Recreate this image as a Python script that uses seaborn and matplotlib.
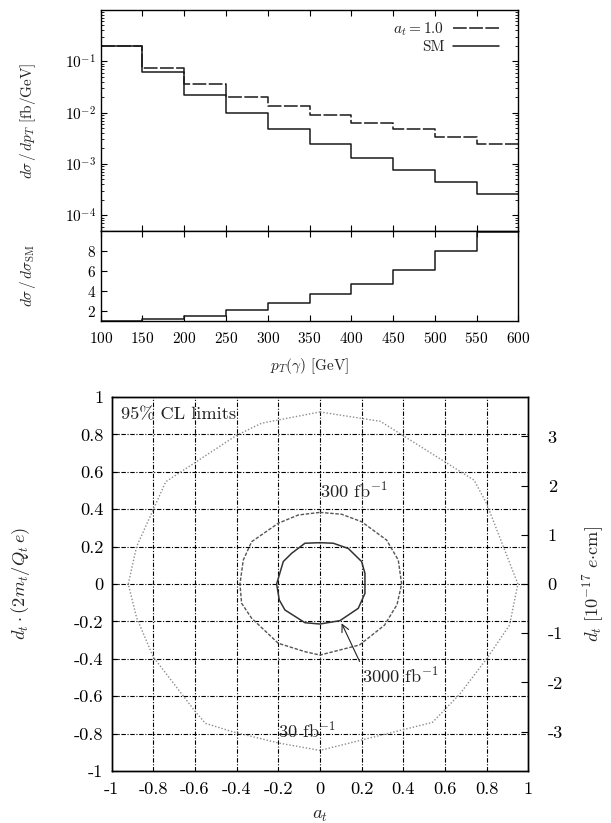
import numpy as np
import pandas as pd
import matplotlib
matplotlib.use("Agg")
import matplotlib.pyplot as plt
from matplotlib.ticker import FixedLocator, FuncFormatter, LogLocator, NullFormatter
import seaborn as sns

# ---- photon pT spectrum (bin edges in GeV) ----
pt_edges = [100, 150, 200, 250, 300, 350, 400, 450, 500, 550, 600]
xsec_at1 = [0.20, 0.075, 0.036, 0.0203, 0.0133, 0.0091, 0.0064, 0.0047, 0.0034, 0.00247]
xsec_sm = [0.20, 0.061, 0.0225, 0.0098, 0.0047, 0.0025, 0.00133, 0.00075, 0.00044, 0.00026]
ratio_at1 = [1.0, 1.2, 1.5, 2.1, 2.75, 3.65, 4.7, 6.1, 8.0, 9.9]

# ---- 95% CL contours in the (a_t, d_t) plane ----
a_30 = [0.00, 0.29, 0.74, 0.80, 0.95, 0.91, 0.80, 0.67, 0.54, 0.00, -0.20, -0.42,
        -0.55, -0.60, -0.80, -0.88, -0.92, -0.88, -0.74, -0.40, -0.28, 0.00]
d_30 = [0.92, 0.87, 0.555, 0.43, 0.00, -0.22, -0.40, -0.59, -0.74, -0.89, -0.85, -0.79,
        -0.745, -0.68, -0.39, -0.18, 0.00, 0.20, 0.547, 0.795, 0.86, 0.92]
a_300 = [0.000, 0.104, 0.200, 0.320, 0.376, 0.392, 0.370, 0.310, 0.190, 0.000, -0.072,
         -0.200, -0.328, -0.376, -0.384, -0.368, -0.328, -0.200, -0.104, 0.000]
d_300 = [0.383, 0.373, 0.333, 0.235, 0.128, 0.000, -0.110, -0.220, -0.326, -0.380, -0.362,
         -0.317, -0.183, -0.103, 0.000, 0.128, 0.226, 0.325, 0.369, 0.383]
a_3000 = [0.000, 0.064, 0.136, 0.200, 0.216, 0.216, 0.184, 0.096, 0.000, -0.072, -0.168,
          -0.195, -0.208, -0.176, -0.136, -0.072, 0.000]
d_3000 = [0.221, 0.218, 0.190, 0.120, 0.057, -0.050, -0.130, -0.196, -0.214, -0.207, -0.139,
          -0.086, 0.000, 0.120, 0.164, 0.218, 0.221]

pt_ticks = [100, 150, 200, 250, 300, 350, 400, 450, 500, 550, 600]
ratio_ticks = [2, 4, 6, 8]
grid_ticks = [-1, -0.8, -0.6, -0.4, -0.2, 0, 0.2, 0.4, 0.6, 0.8, 1]
dt_cm_ticks = [-3, -2, -1, 0, 1, 2, 3]
dt_scale = 3.80  # d_t in 10^-17 e cm per unit of d_t (2 m_t / Q_t e)

sns.set_style("white")
plt.rcParams.update({
    "font.family": "serif",
    "font.serif": ["cmr10", "DejaVu Serif"],
    "mathtext.fontset": "cm",
    "axes.unicode_minus": False,
    "axes.formatter.use_mathtext": True,
    "axes.edgecolor": "black",
    "axes.linewidth": 1.0,
    "xtick.direction": "in",
    "ytick.direction": "in",
    "xtick.color": "black",
    "ytick.color": "black",
    "text.color": "#222222",
})

fig = plt.figure(figsize=(6.11, 8.23), dpi=100)
W, H = 611.0, 823.0


def frame(l, t, r, b):
    return [l / W, 1 - b / H, (r - l) / W, (b - t) / H]


ax_top = fig.add_axes(frame(100.7, 10, 518.3, 230.7))
ax_rat = fig.add_axes(frame(100.7, 230.7, 518.3, 321))
ax_lim = fig.add_axes(frame(111.6, 397, 528.3, 771))

line_col = "#1a1a1a"
fs_top = 11
fs_bot = 13.2


def steps(vals):
    return list(vals) + [vals[-1]]


# ---- upper panel: differential cross section ----
sns.lineplot(x=pt_edges, y=steps(xsec_at1), ax=ax_top, drawstyle="steps-post",
             estimator=None, sort=False, color=line_col, lw=1.1,
             dashes=False, linestyle=(0, (9, 1.6)), label=r"$a_t = 1.0$")
sns.lineplot(x=pt_edges, y=steps(xsec_sm), ax=ax_top, drawstyle="steps-post",
             estimator=None, sort=False, color=line_col, lw=1.1, label="SM")
ax_top.set_yscale("log")
ax_top.set_xlim(100, 600)
ax_top.set_ylim(5e-5, 1)
ax_top.xaxis.set_major_locator(FixedLocator(pt_ticks))
ax_top.yaxis.set_major_locator(LogLocator(base=10, numticks=10))
ax_top.yaxis.set_minor_locator(LogLocator(base=10, subs=np.arange(2, 10), numticks=10))
ax_top.yaxis.set_minor_formatter(NullFormatter())
ax_top.set_yticks([1e-4, 1e-3, 1e-2, 1e-1])
ax_top.tick_params(axis="x", which="both", top=True, bottom=True, labelbottom=False,
                   length=4, width=0.8)
ax_top.tick_params(axis="y", which="major", left=True, right=True, length=4, width=0.8,
                   labelsize=fs_top)
ax_top.tick_params(axis="y", which="minor", left=True, right=True, length=2, width=0.6)
ax_top.set_xlabel("")
ax_top.set_ylabel(r"$d\sigma\,/\,dp_T$ [fb/GeV]", fontsize=fs_top)
ax_top.yaxis.set_label_coords(-0.15, 0.5)
leg = ax_top.legend(loc="upper right", frameon=False, markerfirst=False, fontsize=fs_top,
                    handlelength=3.0, handletextpad=0.6, labelspacing=0.15,
                    borderaxespad=0.3, bbox_to_anchor=(0.98, 1.0))
for txt in leg.get_texts():
    txt.set_ha("right")
for s in ax_top.spines.values():
    s.set_visible(True)

# ---- ratio panel ----
sns.lineplot(x=pt_edges, y=steps(ratio_at1), ax=ax_rat, drawstyle="steps-post",
             estimator=None, sort=False, color=line_col, lw=1.1)
ax_rat.set_xlim(100, 600)
ax_rat.set_ylim(1, 10)
ax_rat.xaxis.set_major_locator(FixedLocator(pt_ticks))
ax_rat.yaxis.set_major_locator(FixedLocator(ratio_ticks))
ax_rat.tick_params(axis="x", top=True, bottom=True, length=4, width=0.8, labelsize=fs_top,
                   pad=7)
ax_rat.tick_params(axis="y", left=True, right=False, length=4, width=0.8, labelsize=fs_top)
ax_rat.set_xlabel(r"$p_T(\gamma)$ [GeV]", fontsize=fs_top)
ax_rat.set_ylabel(r"$d\sigma\,/\,d\sigma_{\rm SM}$", fontsize=fs_top)
ax_rat.xaxis.set_label_coords(0.5, -0.39)
ax_rat.yaxis.set_label_coords(-0.15, 0.5)
for s in ax_rat.spines.values():
    s.set_visible(True)

# ---- lower panel: 95% CL limits ----
grid_style = dict(color="black", lw=0.8, linestyle=(0, (4, 1.5, 1, 1.5)))
for g in grid_ticks[1:-1]:
    ax_lim.axvline(g, zorder=1, **grid_style)
    ax_lim.axhline(g, zorder=1, **grid_style)

sns.lineplot(x=a_30, y=d_30, ax=ax_lim, sort=False, estimator=None, color="#8c8c8c",
             lw=1.0, linestyle=(0, (1, 1.4)), zorder=3)
sns.lineplot(x=a_300, y=d_300, ax=ax_lim, sort=False, estimator=None, color="#555555",
             lw=1.0, linestyle=(0, (2.5, 1.2)), zorder=3)
sns.lineplot(x=a_3000, y=d_3000, ax=ax_lim, sort=False, estimator=None, color="#333333",
             lw=1.1, zorder=3)

ax_lim.set_xlim(-1, 1)
ax_lim.set_ylim(-1, 1)
fmt = FuncFormatter(lambda v, p: "%g" % round(v, 2))
ax_lim.xaxis.set_major_locator(FixedLocator(grid_ticks))
ax_lim.yaxis.set_major_locator(FixedLocator(grid_ticks))
ax_lim.xaxis.set_major_formatter(fmt)
ax_lim.yaxis.set_major_formatter(fmt)
ax_lim.tick_params(axis="both", length=4, width=0.8, labelsize=fs_bot)
ax_lim.tick_params(axis="x", pad=8)
ax_lim.tick_params(axis="y", pad=6)
ax_lim.set_xlabel(r"$a_t$", fontsize=fs_bot)
ax_lim.set_ylabel(r"$d_t\cdot(2m_t/Q_t\,e)$", fontsize=fs_bot)
ax_lim.xaxis.set_label_coords(0.5, -0.1)
ax_lim.yaxis.set_label_coords(-0.19, 0.5)
for s in ax_lim.spines.values():
    s.set_visible(True)

ax_cm = ax_lim.twinx()
ax_cm.set_ylim(-dt_scale, dt_scale)
ax_cm.yaxis.set_major_locator(FixedLocator(dt_cm_ticks))
ax_cm.yaxis.set_major_formatter(FuncFormatter(lambda v, p: "%d" % v))
ax_cm.tick_params(axis="y", right=True, length=5, width=0.8, labelsize=fs_bot, pad=14)
ax_cm.set_ylabel(r"$d_t\ [10^{-17}\ e{\cdot}\mathrm{cm}]$", fontsize=fs_bot, rotation=90)
ax_cm.yaxis.set_label_coords(1.125, 0.5)
ax_cm.grid(False)

ax_lim.text(-0.955, 0.905, "95% CL limits", fontsize=fs_bot, ha="left", va="center", zorder=5)
ax_lim.text(0.0, 0.50, r"300 fb$^{-1}$", fontsize=fs_bot, ha="left", va="center", zorder=5)
ax_lim.text(-0.20, -0.78, r"30 fb$^{-1}$", fontsize=fs_bot, ha="left", va="center", zorder=5)
ax_lim.annotate(r"3000 fb$^{-1}$", xy=(0.104, -0.21), xytext=(0.2, -0.487),
                fontsize=fs_bot, ha="left", va="center", zorder=5,
                arrowprops=dict(arrowstyle="->", color="#222222", lw=0.8,
                                relpos=(0.0, 0.95), shrinkA=0, shrinkB=0))

fig.savefig("out.png", dpi=100)
